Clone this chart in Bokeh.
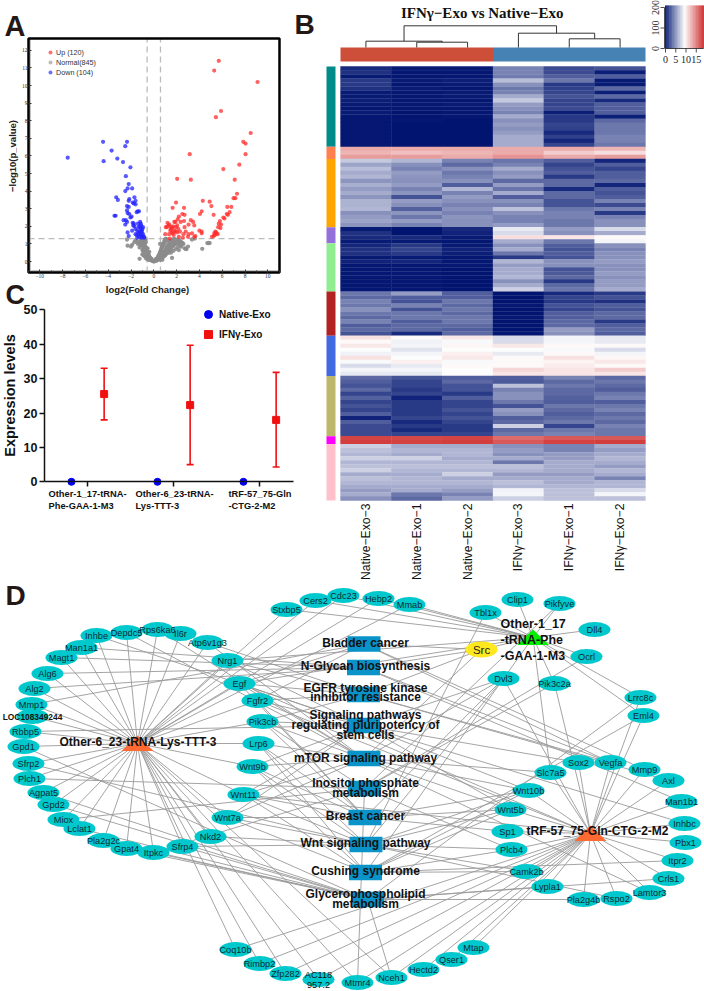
import numpy as np
from bokeh.plotting import figure
from bokeh.layouts import column, row
from bokeh.models import (FixedTicker, Whisker, ColumnDataSource, Legend, LegendItem,
                          LinearColorMapper, TeeHead)
from bokeh.core.properties import value
from bokeh.embed import file_html
from bokeh.resources import INLINE

SANS = "Liberation Sans"
SERIF = "Liberation Serif"

# ---------- Panel A values ----------
up_x = [5.7,5.3,9.1,5.9,5.45,8.5,7.85,8.05,8.05,3.15,7.5,6.1,2.05,3.25,7.1,7.3,7,7.15,4.3,4.9,1.95,5.05,6.45,6.8,6.65,1.65,2.65,4.2,4.05,5.25,2.5,2.7,2.2,6.4,6.5,6.1,6.2,5.8,5.7,5.9,5.65,5.85,
        1.2,1.3,1.15,1.55,1.7,1.9,1.8,2.1,2.05,2.35,2.65,3.25,3.45,3.55,3.05,2.7,1.45,1.6,1.8,1,1.35,1.75,2.05,2.3,1.4,2.2,2.6,2.8,3.05,3.35,4,4.2,4.2,3.65,3.55,5.45,5.35,5.25,5.1,5.4,1.95,1.65,1.05,3,2.55,1.5,1.6,1.9,2.15,1.35,5.5,5.6,5.3]
up_y = [11.4,10.85,10.2,8.55,8.2,7.3,6.8,6.7,6.1,6.1,5.5,5.25,4.7,4.65,4.65,3.85,3.6,3.6,3.45,3.4,3.35,3.15,3.1,3.1,2.8,3.05,3.05,2.85,2.7,2.65,2.7,2.65,2.55,2.7,2.65,2.5,2.45,2.3,2.15,2.1,1.95,1.9,
        2.2,2.05,1.95,1.95,2,2.25,2.25,2.4,2.05,2.25,2.3,2.35,2.25,2.05,2.1,1.95,1.75,1.65,1.75,1.55,1.55,1.5,1.65,1.7,1.3,1.4,1.55,1.7,1.55,1.6,1.75,1.7,1.6,1.45,1.4,1.65,1.5,1.45,1.4,1.7,1.95,1.6,1.95,1.4,1.35,1.85,1.9,1.7,1.85,2.1,1.6,1.55,1.6]
down_x = [-7.55,-4.45,-2.35,-2.5,-3.7,-3.2,-4.4,-2.7,-2.05,-2.45,-2.2,-2.3,-1.9,-2.5,-3.3,-3.15,-2.15,-2.2,-1.7,-1.6,-1.85,-1.75,-1.6,-2.35,-2.2,-2.35,-2.3,-3.35,-3.45,-2.15,-1.95,-1.5,-1.4,-1.3,-2.05,-2.65,-2.45,-2.35,-2.5,-1.85,-1.75,-1.8,-1.4,-1.2,-1.15,-1.1,-1.3,-1.15,-1,-1.6,-1.9,-1.45,-1.2,-1.05,-0.95,-1.3,-1.6,-2.3,-2.2,-1.15,-1,-0.85,-1.3,-1.45,-1.1,-0.85,-1.25,-1.35,-1.05,-0.95,-1.5,-1.7]
down_y = [5.9,6.8,6.8,6.55,6.3,5.85,5.7,5.65,5.35,4.85,4.4,4.15,4.15,4,3.65,3.5,3.55,3.45,3.65,3.45,3.35,3.3,3.25,3.15,3.1,2.9,2.75,2.6,2.6,2.7,2.55,2.8,2.85,2.85,2.5,2.35,2.35,2.25,2.1,2.2,2.15,2.05,2.15,2.25,2.15,2.05,1.95,1.85,1.85,1.85,1.75,1.75,1.7,1.65,1.55,1.55,1.55,1.65,1.45,1.5,1.45,1.4,1.4,1.35,1.35,1.35,2.0,1.65,1.75,1.95,1.5,2.0]
norm_x = [0,0.05,-0.05,0.1,-0.1,0.15,-0.15,0.2,-0.2,0.25,-0.25,0.3,-0.3,0.35,-0.35,0.4,-0.4,0.45,-0.45,0.5,-0.5,0.55,-0.55,0.6,-0.6,0.65,-0.65,0.7,-0.7,0.75,-0.75,0.8,-0.8,0.85,-0.85,0.9,-0.9,0.95,-0.95,1,-1,1.05,1.1,-1.05,1.15,-1.1,0.3,-0.3,0.4,-0.4,0.5,-0.5,0.6,-0.6,0.7,-0.7,0.8,-0.8,0.9,-0.9,1,-1,1.1,1.2,1.3,1.4,1.5,1.6,1.7,1.8,1.9,2,2.1,2.2,2.3,2.4,2.5,2.6,1.1,1.2,1.3,1.4,1.5,1.6,1.7,1.8,1.9,2,0.9,1,1.1,1.2,1.3,1.4,1.5,0.6,0.7,0.8,0.9,1,-0.6,-0.7,-0.8,-0.9,-1,-0.7,-0.8,-0.9,-1.15,-1.2,-1.3,-1.4,-1.5,-1.6,-1.7,-2.3,-2.35,-1.9,-2,2.8,2.85,4.25,4.7,4.8,4.9,3.6,3.35,3,2.7,2.2,2.4,-0.95,-0.5,-0.4,-0.2,0.2,0.25,-1.25,-0.55,0.55,0.75,1.6,
        1.3,1.5,1.7,1.9,2.1,2.3,0.85,0.95,1.05,1.15,1.25,1.35,1.45,1.55,1.65,1.75,1.85,1.95,2.05,2.15,2.25,2.35,0.55,0.65,0.75,0.85,0.95,1.05,1.15,1.25,1.35,1.45,1.05,0.95,0.85,0.75,0.65,0.55,0.45,0.35,
        -0.45,-0.55,-0.65,-0.75,-0.85,-0.95,-0.85,-0.75,-0.65,-0.55,-0.9,-1.0,-0.8,-0.7,-0.85,-1.1,-1.0,-1.15,-1.25,-0.95,-0.8,-0.75]
norm_y = [0,0.02,0.02,0.03,0.03,0.05,0.05,0.08,0.08,0.12,0.12,0.17,0.17,0.22,0.22,0.3,0.3,0.35,0.35,0.42,0.42,0.5,0.5,0.6,0.6,0.7,0.7,0.8,0.8,0.85,0.85,0.95,0.95,1.02,1.02,1.1,1.1,1.18,1.18,1.25,1.25,1.28,1.26,1.28,1.2,1.2,0.08,0.08,0.14,0.14,0.2,0.2,0.28,0.28,0.36,0.36,0.44,0.44,0.55,0.55,0.65,0.65,0.75,0.85,0.95,1.05,1.15,1.2,1.25,1.28,1.22,1.18,1.25,1.2,1.15,1.1,1.05,1.0,0.55,0.6,0.65,0.7,0.8,0.85,0.9,0.95,1,1.05,0.35,0.4,0.45,0.5,0.55,0.6,0.7,0.14,0.2,0.25,0.3,0.35,0.14,0.2,0.3,0.35,0.4,0.5,0.6,0.7,0.95,1.05,1.1,1.0,1.15,1.2,1.1,0.9,1.25,0.95,0.85,0.72,0.7,0.72,1.05,1.05,1.05,1.3,1.25,0.85,0.75,0.65,0.85,0.9,0.45,0.55,0.15,0.15,0.05,0.15,0.75,0.1,0.1,0.2,0.5,
        0.5,0.6,0.7,0.8,0.9,0.95,0.4,0.55,0.6,0.7,0.75,0.85,0.9,1,1.05,1.1,1.1,1.05,1,1.1,1.05,1,0.2,0.3,0.3,0.55,0.7,0.85,0.95,1.05,1.15,1.25,1.1,1,0.85,0.65,0.5,0.35,0.2,0.1,
        0.2,0.3,0.4,0.5,0.65,0.8,0.8,0.7,0.55,0.4,1,1.1,1.1,1,1.2,1,0.9,0.8,1.1,1.25,1.25,1.2]

# ---------- Panel C values ----------
groups = ["Other-1_17-tRNA-Phe-GAA-1-M3", "Other-6_23-tRNA-Lys-TTT-3", "tRF-57_75-Gln-CTG-2-M2"]
native_mean = [0, 0, 0]
ifn_mean = [25.5, 22.3, 18]
ifn_low = [18, 5, 4.3]
ifn_high = [33, 39.7, 31.8]

# ---------- Panel B values (rows top to bottom, one list per sample) ----------
native3 = [1,1.2,0.3,1.5,1.5,1.3,0.4,0.3,0.5,0.3,0.2,0.3,0.2,0.2,0.2,0.2,0.2,0.2,0.2,0.2,
  13,12.5,13.5,
  7.2,5.8,6.8,6,6.5,5.2,6.2,5.5,6,5.2,6.3,6.3,6.5,5,5.5,5.7,5.2,
  0.4,1.2,1,0.3,0.8,1.3,1.3,0.4,0.7,0.2,0.2,0.2,0.2,0.2,0.2,0.2,
  4,3.5,4.5,4,5,4,3.5,4.5,3,3.5,2.5,
  10.6,9.5,10.3,9.3,8.8,10.6,9.2,8,9,8.5,
  3.5,3,2.5,3.5,2,3.2,2,2.5,2,3,0.7,3,2.2,2.2,2.2,
  17.3,17.6,
  7.5,7,6.5,7.5,6.5,7,7.5,6,7,6.5,6,5.5,6,5]
native1 = [0.3,0.2,0.2,0.3,0.2,0.3,0.2,0.2,0.2,0.2,0.2,0.1,0.1,0.2,0.1,0.1,0.1,0.1,0.1,0.1,
  13,12,13.5,
  6.5,5,4.5,5.5,5.2,5,5.5,4.5,5.2,2.5,5.5,5,3.2,5.2,4,5.5,4.5,
  0.1,0.1,1,0.3,1.5,2,1.5,0.3,0.8,0.2,0.2,0.2,0.2,0.2,0.2,0.2,
  5.5,3,2.5,4.5,2.5,4,4,3,3.5,3.5,1,
  9.5,8.8,9,8.3,9,9.3,10,8.5,9,8.6,
  2.5,2,2,1.5,2,0.7,1.5,1.5,1.5,1.5,2,1,1.5,1,2,
  17.2,17.5,
  6,6.5,6,7.5,6.5,7,6.5,6,6.5,6.5,6,6,4,3.5]
native2 = [0.3,0.2,0.2,0.5,0.3,0.2,0.3,0.4,0.2,0.3,0.2,0.2,0.2,0.1,0.1,0.1,0.1,0.1,0.1,0.1,
  13,12.5,13,
  4.5,3.5,5,4,4.5,5,3,6.5,4.5,5.5,5,4.5,5,4.5,5.2,5,5,
  1,0.6,0.3,0.2,0.4,0.6,0.5,0.2,0.2,0.2,0.1,0.1,0.1,0.1,0.1,0.1,
  3,3,4,3.5,4,3.5,4,4,3.5,3,3.5,
  10.3,9.2,9.7,9.3,10,10.3,9.2,9.5,9.4,9.4,
  3,3.5,2.5,2.5,1.5,3,2,2,2.5,2,2.5,2,1.5,1.5,2,
  17.3,17.6,
  6,6.5,6.5,6,6.5,7,6.5,7.5,6,6.5,6,5.5,4.5,5.5]
ifn3 = [4.5,4.5,4.2,6.8,5,4,4.5,6,7.2,5.5,5,4.5,6,5,5.5,5,5.5,6,6,6,
  13,13,14,
  3.8,4.5,6,5,5.5,3.5,5.5,3.8,6,3,5,4.5,7,5,4.5,4.5,5.5,
  8.5,8,10.8,6,5,6,4,1.5,6.5,5.5,6,6,6.5,5,6,7.5,
  0.1,0.1,0.1,0.2,0.1,0.1,0.2,0.1,0.1,0.1,0.2,
  8,8,10.3,9.3,8.5,9.5,9.5,9.5,11,10.5,
  3,2.8,7,4.5,5,5,4,2.5,5.5,5,3,3.5,7.5,3.5,4,
  15.5,16.5,
  5,5.5,5,6,4,7,6.5,5.5,6,7,6.5,8.8,9,7.5]
ifn1 = [2.2,2.2,3,4,1.5,1.8,2,2.5,2,2,2.3,0.5,1.5,1.5,2,1.8,1,1.8,0.8,2,
  13,11.5,13,
  3,2,2.5,3,1.5,3.5,3.5,1,3.5,3.5,2.5,2.5,4,4.5,4.5,4,4,
  5.5,5,10.5,4,3,2.5,3,2.5,5,5,2.5,2.8,3.5,1.5,3.5,4,
  1,2,1.5,2.5,2,3,3,3.5,3.5,5.5,5,
  9,9,9.5,9.2,9.5,10.6,9.8,10.2,10.5,10.5,
  4.5,3.5,4,3.5,3.5,3.2,3,4,3.5,3,3.5,4,2,4,4.5,
  16.5,17.5,
  4.5,4.5,5.5,5.5,6,6,6,5.5,6,6,6.5,7,7,7]
ifn2 = [2.5,0.5,3,0.3,0.3,3.5,0.5,3.5,1,3,3,3,0.5,3.5,4,4,4,4.5,4.5,4,
  12.5,10.8,13.5,
  0.8,3,2,3,3,3.5,0.8,3,2.5,3,4.5,2.2,4.5,1.5,4.5,5,5,
  8,6,9.5,9,5,4.5,5,5,5.5,5,5,5.5,5,5.5,5.5,6,
  1.5,2.5,1.2,3,2.5,3.5,3.5,1.5,3,3.5,3,
  8.5,8.5,9.5,8,9,9.7,10.3,9.5,11.5,10.5,
  3.5,4,3.5,3,4,4.5,3,4,4.5,3.5,4,3.5,4.5,4,4,
  16.5,17.6,
  6,5.5,6,6.5,6,5.5,6.5,6,4.5,6.5,6.5,8,9,7]
samples = ["Native\u2212Exo\u22123","Native\u2212Exo\u22121","Native\u2212Exo\u22122","IFN\u03b3\u2212Exo\u22123","IFN\u03b3\u2212Exo\u22121","IFN\u03b3\u2212Exo\u22122"]
sample_values = [native3, native1, native2, ifn3, ifn1, ifn2]
cluster_rows = [20,3,17,4,12,11,10,15,2,14]
cluster_colors = ["#008B8B","#FF7F50","#FFA500","#9370DB","#90EE90","#B22222","#4169E1","#BDB76B","#FF00FF","#FFC0CB"]
for s in sample_values:
    assert len(s) == sum(cluster_rows), len(s)

# ---------- Panel D network ----------
nodes = {
 "Stxbp5":(286,609),"Cers2":(315,600),"Cdc23":(343,595),"Hebp2":(378,598),"Mmab":(409,604),"Tbl1x":(485,612),
 "Clip1":(517,599),"Pikfyve":(559,603),"Dll4":(594,629),"Ocrl":(586,656),"Dvl3":(503,678),"Pik3c2a":(554,683),
 "Lrrc8c":(640,697),"Eml4":(643,715),"Sox2":(578,762),"Vegfa":(610,762),"Mmp9":(644,769),"Axl":(668,780),"Slc7a5":(550,772),
 "Wnt10b":(528,790),"Man1b1":(681,801),"Wnt5b":(510,809),"Inhbc":(684,823),"Sp1":(507,831),"Pbx1":(685,842),"Plcb4":(511,849),
 "Itpr2":(677,860),"Camk2b":(526,871),"Crls1":(668,878),"Lypla1":(547,886),"Lamtor3":(649,892),"Pla2g4b":(583,899),"Rspo2":(616,898),
 "Mtap":(473,947),"Qser1":(451,959),"Hectd2":(423,969),"Nceh1":(391,977),"Mtmr4":(357,982),
 "Agpat5":(43,792),"Gpd2":(53,804),"Miox":(63,819),"Lclat1":(79,828),"Pla2g2c":(103,840),"Gpat4":(126,848),"Itpkc":(153,852),
 "Sfrp4":(182,846),"Nkd2":(210,836),"Wnt7a":(227,817),"Wnt11":(243,794),"Coq10b":(235,949),"Rimbp2":(259,963),"Zfp282":(285,973),"AC118\n957.2":(318,979),
 "Inhbe":(96,635),"Depdc5":(126,632),"Rps6ka6":(157,629),"Il6r":(180,633),"Atp6v1g3":(207,642),"Nrg1":(227,660),"Man1a1":(81,647),
 "Magt1":(61,657),"Alg6":(47,673),"Alg2":(34,688),"Egf":(239,683),"Fgfr2":(257,700),"Mmp1":(31,704),"LOC108349244":(32,716),"Rbbp5":(25,731),
 "Pik3cb":(262,721),"Gpd1":(23,746),"Lrp6":(258,743),"Sfrp2":(28,763),"Wnt9b":(252,766),"Plch1":(29,778),
}
src_node = ("Src", 481, 649)
hubs = {"six":(137,743,"#FF6A33"), "one":(532.5,637,"#00F000"), "trf":(590,833,"#FF6A33")}
hub_six = ["Stxbp5","Cers2","Cdc23","Hebp2","Mmab","Inhbe","Depdc5","Rps6ka6","Il6r","Atp6v1g3","Nrg1","Man1a1","Magt1","Alg6","Alg2","Egf","Fgfr2","Mmp1","LOC108349244","Rbbp5",
           "Pik3cb","Gpd1","Lrp6","Sfrp2","Wnt9b","Plch1","Agpat5","Gpd2","Miox","Lclat1","Pla2g2c","Gpat4","Itpkc","Sfrp4","Nkd2","Wnt7a","Wnt11","Coq10b","Rimbp2","Zfp282","AC118\n957.2","Mtmr4","Nceh1"]
hub_one = ["Stxbp5","Cers2","Cdc23","Hebp2","Mmab","Tbl1x","Clip1","Pikfyve","Dll4","Ocrl","Dvl3","Pik3c2a","Lrrc8c","Eml4","Slc7a5","Nrg1","Egf"]
hub_trf = ["Sox2","Vegfa","Mmp9","Axl","Slc7a5","Wnt10b","Man1b1","Wnt5b","Inhbc","Sp1","Pbx1","Plcb4","Itpr2","Camk2b","Crls1","Lypla1","Lamtor3","Pla2g4b","Rspo2","Mtap","Qser1","Hectd2","Nceh1","Coq10b","Rimbp2","Zfp282","AC118\n957.2","Mtmr4","Lrrc8c","Eml4","Dvl3","Pik3c2a","Egf","Fgfr2","Wnt11"]
pathway_names = ["Bladder","NGlycan","EGFR","Pluri","mTOR","Inositol","Breast","Wnt","Cushing","Glycero"]
pathway_labels = [["Bladder cancer"],["N-Glycan biosynthesis"],["EGFR tyrosine kinase","inhibitor resistance"],
                  ["Signaling pathways","regulating pluripotency of","stem cells"],["mTOR signaling pathway"],
                  ["Inositol phosphate","metabolism"],["Breast cancer"],["Wnt signaling pathway"],["Cushing syndrome"],["Glycerophospholipid","metabolism"]]
pathway_pos = [(363.5,643.5),(363,667),(363,694),(363,725),(363.5,758),(364,788),(364.5,817),(365.5,844),(365,872),(367,899)]
pathway_text_y = [[642],[665],[687,696.5],[714,724,734],[757],[782,792],[815],[842],[870],[893,903]]
gene_paths = {
 "Egf":["Bladder","EGFR","Pluri","mTOR","Breast"],"Nrg1":["EGFR","Pluri"],"Fgfr2":["Bladder","Pluri","Breast","EGFR"],"Pik3cb":["EGFR","Pluri","mTOR","Inositol","Breast"],
 "Lrp6":["mTOR","Wnt","Breast","Cushing"],"Wnt9b":["Pluri","mTOR","Breast","Wnt","Cushing"],"Wnt11":["Pluri","mTOR","Breast","Wnt","Cushing"],"Wnt7a":["Pluri","mTOR","Breast","Wnt","Cushing"],
 "Nkd2":["Wnt"],"Sfrp4":["Wnt","Glycero"],"Sfrp2":["Wnt"],"Itpkc":["Inositol","Glycero"],"Gpat4":["Glycero"],"Agpat5":["Glycero"],"Gpd1":["Glycero"],"Gpd2":["Glycero"],"Lclat1":["Glycero"],"Pla2g2c":["Glycero"],
 "Miox":["Inositol"],"Plch1":["Inositol"],"Man1a1":["NGlycan"],"Magt1":["NGlycan"],"Alg6":["NGlycan"],"Alg2":["NGlycan"],"Mmp1":["Bladder"],"Rbbp5":["Pluri"],"Inhbe":["Pluri"],
 "Depdc5":["mTOR"],"Rps6ka6":["mTOR"],"Il6r":["EGFR"],"Atp6v1g3":["mTOR"],"Tbl1x":["Wnt"],"Pikfyve":["Inositol"],"Ocrl":["Inositol"],"Pik3c2a":["Inositol"],
 "Dvl3":["Pluri","mTOR","Breast","Wnt","Cushing"],"Slc7a5":["mTOR"],"Sox2":["Pluri"],"Vegfa":["Bladder","EGFR","NGlycan"],"Mmp9":["Bladder"],"Axl":["EGFR"],"Man1b1":["NGlycan"],"Inhbc":["Pluri"],
 "Itpr2":["Cushing"],"Crls1":["Glycero"],"Lamtor3":["mTOR"],"Rspo2":["Wnt"],"Pla2g4b":["Glycero"],"Lypla1":["Glycero"],"Camk2b":["Wnt","Cushing"],"Plcb4":["Wnt","Cushing","Inositol"],"Sp1":["Breast"],
 "Wnt5b":["Pluri","mTOR","Breast","Wnt","Cushing"],"Wnt10b":["Pluri","mTOR","Breast","Wnt","Cushing"],"Mtmr4":["Inositol"],"Nceh1":["Glycero"],"Lrrc8c":["Glycero"],"Eml4":["Cushing"],
}

# ---------- Panel A ----------
HA, WA = 311, 294
ax_ = lambda px: (px - 153.3) / 11.4
ay_ = lambda py: (261.0 - py) / 17.6
L, R, T, B = ax_(28), ax_(279), ay_(38), ay_(272)
pa = figure(width=WA, height=HA, x_range=(ax_(0), ax_(WA)), y_range=(ay_(HA), ay_(0)), output_backend="svg", toolbar_location=None, min_border=0)
pa.grid.visible = False; pa.outline_line_color = None
pa.xaxis.ticker = FixedTicker(ticks=list(range(-10, 11, 2)), minor_ticks=list(range(-11, 12)))
pa.yaxis.ticker = FixedTicker(ticks=list(range(0, 13)))
pa.xaxis.fixed_location = B; pa.yaxis.fixed_location = L
for ax in (pa.xaxis[0], pa.yaxis[0]):
    ax.axis_line_color = None
    ax.major_tick_in = 3; ax.major_tick_out = 0; ax.minor_tick_in = 2; ax.minor_tick_out = 0
    ax.major_tick_line_color = "#333"; ax.minor_tick_line_color = "#333"
    ax.major_label_text_font = SERIF; ax.major_label_text_font_size = "5.5px"; ax.major_label_text_color = "#333"
    ax.major_label_standoff = 1
    ax.axis_label_text_font = SANS; ax.axis_label_text_font_style = "bold"; ax.axis_label_text_color = "#222"
    ax.axis_label_text_font_size = "9.5px"
pa.xaxis.axis_label = "log2(Fold Change)"; pa.yaxis.axis_label = "\u2212log10(p_value)"
pa.xaxis.axis_label_standoff = 3; pa.yaxis.axis_label_standoff = 1
# light inner band and box
pa.quad(left=[L, L], right=[ax_(30.5), R], top=[T, ay_(269.5)], bottom=[B, B], fill_color="#c4c4c4", line_color=None)
pa.segment(x0=[L], y0=[1.3], x1=[R], y1=[1.3], line_color="#bbbbbb", line_dash="6 4", line_width=1.3)
pa.segment(x0=[-0.585, 0.585], y0=[B, B], x1=[-0.585, 0.585], y1=[T, T], line_color="#bbbbbb", line_dash="6 4", line_width=1.3)
n = min(len(norm_x), len(norm_y)); r_n = pa.scatter(norm_x[:n], norm_y[:n], size=4.3, color="#8c8c8c", alpha=0.9, line_color=None)
n = min(len(up_x), len(up_y)); r_u = pa.scatter(up_x[:n], up_y[:n], size=4.2, color="#FF2B2B", alpha=0.75, line_color=None)
n = min(len(down_x), len(down_y)); r_d = pa.scatter(down_x[:n], down_y[:n], size=4.2, color="#2222FF", alpha=0.75, line_color=None)
pa.quad(left=[L], right=[R], top=[T], bottom=[B], fill_color=None, line_color="black", line_width=2.5)
lr_u = pa.scatter([-99],[-99], size=5.5, color="#FF7070", line_color=None)
lr_n = pa.scatter([-99],[-99], size=5.5, color="#BBBBBB", line_color=None)
lr_d = pa.scatter([-99],[-99], size=5.5, color="#7070FF", line_color=None)
lega = Legend(items=[LegendItem(label="Up (120)", renderers=[lr_u]), LegendItem(label="Normal(845)", renderers=[lr_n]), LegendItem(label="Down (104)", renderers=[lr_d])],
              location=(44, HA-77), background_fill_alpha=0, border_line_color=None, spacing=0, padding=0, margin=0,
              label_text_font=SANS, label_text_font_size="7.2px", label_text_color="#333", glyph_width=12, glyph_height=10, label_height=10, label_standoff=0)
pa.add_layout(lega, "center")
pa.text([ax_(4)], [ay_(25)], text=["A"], text_baseline="middle", text_font=value(SANS), text_font_style="bold", text_font_size="29px", text_color="#231815")
pa.text([ax_(5)], [ay_(294)], text=["C"], text_baseline="middle", text_font=value(SANS), text_font_style="bold", text_font_size="27px", text_color="#231815")

# ---------- Panel C ----------
HC = 276
cx = lambda px: (px - 87.3) / 86.0
cy = lambda py: (481.3 - 304 - py) / 3.44
# the figure overlaps panel A's lower edge by a few pixels and is transparent there
pc = figure(width=WA, height=HC, x_range=(cx(0), cx(WA)), y_range=(cy(HC), cy(0)), output_backend="svg", toolbar_location=None, min_border=0,
            margin=(304-HA, 0, 0, 0), background_fill_alpha=0, border_fill_alpha=0)
pc.grid.visible = False; pc.outline_line_color = None
pc.yaxis.ticker = FixedTicker(ticks=[0,10,20,30,40,50]); pc.xaxis.ticker = FixedTicker(ticks=[0,1,2])
pc.xaxis.major_label_overrides = {0:"", 1:"", 2:""}
pc.xaxis.fixed_location = 0; pc.yaxis.fixed_location = cx(44)
pc.xaxis.bounds = (cx(44), cx(293)); pc.yaxis.bounds = (0, 50)
pc.xaxis.minor_tick_line_color = None; pc.yaxis.minor_tick_line_color = None
for ax in (pc.xaxis[0], pc.yaxis[0]):
    ax.axis_line_width = 1.5; ax.major_tick_line_width = 1.5; ax.major_tick_in = 0; ax.major_tick_out = 5
    ax.axis_line_color = "#111"; ax.major_tick_line_color = "#111"
pc.yaxis.major_label_text_font = SANS; pc.yaxis.major_label_text_font_style = "bold"; pc.yaxis.major_label_text_font_size = "12.5px"; pc.yaxis.major_label_text_color = "#111"
pc.yaxis.major_label_standoff = 2
pc.yaxis.axis_label = "Expression levels"; pc.yaxis.axis_label_text_font = SANS; pc.yaxis.axis_label_text_font_style = "bold"
pc.yaxis.axis_label_text_font_size = "14.5px"; pc.yaxis.axis_label_standoff = 3; pc.yaxis.axis_label_text_color = "#111"
centers = np.arange(3)
src_w = ColumnDataSource(dict(x=centers + 0.19, lo=ifn_low, hi=ifn_high))
pc.add_layout(Whisker(source=src_w, base="x", upper="hi", lower="lo", line_color="#F01010", line_width=1.6,
                      upper_head=TeeHead(size=7, line_color="#F01010", line_width=1.6),
                      lower_head=TeeHead(size=7, line_color="#F01010", line_width=1.6)))
rb = pc.scatter(centers - 0.19, native_mean, marker="circle", size=7, color="#0000F0")
rr = pc.scatter(centers + 0.19, ifn_mean, marker="square", size=7, color="#F01010")
legc = Legend(items=[LegendItem(label="Native-Exo", renderers=[rb]), LegendItem(label="IFN\u03b3-Exo", renderers=[rr])],
              location=(198, 236), background_fill_alpha=0, border_line_color=None, spacing=0, padding=0, margin=0,
              label_text_font=SANS, label_text_font_style="bold", label_text_font_size="10px", label_text_color="#111",
              glyph_width=20, glyph_height=20, label_height=20, label_standoff=1)
pc.add_layout(legc, "center")
for x0, l1, l2 in [(48,"Other-1_17-tRNA-","Phe-GAA-1-M3"),(135,"Other-6_23-tRNA-","Lys-TTT-3"),(228,"tRF-57_75-Gln","-CTG-2-M2")]:
    pc.text([cx(x0)]*2, [cy(493-304), cy(505-304)], text=[l1, l2], text_baseline="middle", text_font=value(SANS), text_font_style="bold", text_font_size="9.3px", text_color="#111")

# ---------- Panel B ----------
HB, WB = 580, 410
pb = figure(width=WB, height=HB, x_range=(294, 704), y_range=(580, 0), output_backend="svg", toolbar_location=None,
            min_border=0)
pb.axis.visible = False; pb.grid.visible = False; pb.outline_line_color = None
X0, X1, Y0, Y1 = 340.0, 645.0, 66.0, 500.0
cw = (X1 - X0) / 6; nrows = sum(cluster_rows); rh = (Y1 - Y0) / nrows
stops = np.array([[0,20,112],[255,255,255],[205,38,38]], float)
palette = []
for t in np.linspace(0, 1, 128):
    a, b, f = (stops[0], stops[1], t*2) if t < .5 else (stops[1], stops[2], t*2-1)
    c = (a + (b-a)*f).astype(int)
    palette.append("#%02x%02x%02x" % tuple(int(i) for i in c))
mapper = LinearColorMapper(palette=palette, low=0, high=18.7)
xs, ys, vals = [], [], []
for j, col in enumerate(sample_values):
    for i, v in enumerate(col):
        xs.append(X0 + cw*(j+.5)); ys.append(Y0 + rh*(i+.5)); vals.append(v)
pb.rect(x="x", y="y", width=cw+0.3, height=rh+0.3, source=ColumnDataSource(dict(x=xs, y=ys, v=vals)),
        fill_color={"field":"v","transform":mapper}, line_color=None)
# column and row annotations
pb.quad(left=[X0, X0+3*cw], right=[X0+3*cw, X1], top=[47,47], bottom=[61,61], fill_color=["#CD4F39","#4682B4"], line_color=None)
edges = np.cumsum([0]+cluster_rows)
pb.quad(left=[326]*10, right=[335]*10, top=[Y0+rh*e for e in edges[:-1]], bottom=[Y0+rh*e for e in edges[1:]], fill_color=cluster_colors, line_color=None)
# dendrogram
cc = lambda i: X0 + cw*(i+.5)
m12 = (cc(1)+cc(2))/2; m45 = (cc(4)+cc(5))/2; m0 = (cc(0)+m12)/2; m3 = (cc(3)+m45)/2
dx = [[cc(1),cc(1),cc(2),cc(2)],[cc(0),cc(0),m12,m12],[cc(4),cc(4),cc(5),cc(5)],[cc(3),cc(3),m45,m45],[m0,m0,m3,m3]]
dy = [[47,41.7,41.7,47],[47,40.7,40.7,41.7],[47,38.3,38.3,47],[47,32.7,32.7,38.3],[40.7,25.3,25.3,32.7]]
pb.multi_line(dx, dy, line_color="#333", line_width=1)
for j, s in enumerate(samples):
    pb.text([cc(j)], [503], text=[s], angle=np.pi/2, text_align="right", text_baseline="middle", text_font=value(SANS),
            text_font_size="12.2px", text_color="#111")
pb.text([481.7], [12], text=["IFN\u03b3\u2212Exo vs Native\u2212Exo"], text_align="center", text_baseline="middle", text_font=value(SERIF),
        text_font_style="bold", text_font_size="15px", text_color="#111")
# colour key
kx = np.linspace(0, 18.7, 64)
kpx = 665 + kx*2.05
pb.rect(x="x", y=26.5, width=kpx[1]-kpx[0]+0.3, height=43, source=ColumnDataSource(dict(x=kpx, v=kx)),
        fill_color={"field":"v","transform":mapper}, line_color=None)
key_ticks = [0,5,10,15]
tpx = [665 + t*2.05 for t in key_ticks]
pb.segment(x0=[665,*tpx], y0=[48]*5, x1=[703,*tpx], y1=[48,*[52]*4], line_color="#222", line_width=0.8)
pb.text(tpx, [59]*4, text=[str(t) for t in key_ticks], text_align="center", text_baseline="middle", text_font=value(SERIF), text_font_size="10px", text_color="#222")
count_ticks = [0,100,200]
cpy = [48 - c*0.205 for c in count_ticks]
pb.segment(x0=[664]+[660]*3, y0=[48]+cpy, x1=[664]*4, y1=[cpy[-1]]+cpy, line_color="#222", line_width=0.8)
pb.text([655]*3, cpy, text=[str(c) for c in count_ticks], angle=np.pi/2, text_align="center", text_baseline="middle", text_font=value(SERIF), text_font_size="10px", text_color="#222")
pb.text([294], [24], text=["B"], text_align="left", text_baseline="middle", text_font=value(SANS), text_font_style="bold", text_font_size="28px", text_color="#231815")

# ---------- Panel D ----------
HD = 411
pd_ = figure(width=704, height=HD, x_range=(0, 704), y_range=(991, 580), output_backend="svg", toolbar_location=None, min_border=0)
pd_.axis.visible = False; pd_.grid.visible = False; pd_.outline_line_color = None
ppos = dict(zip(pathway_names, pathway_pos))
ex0, ey0, ex1, ey1 = [], [], [], []
def edge(a, b):
    ex0.append(a[0]); ey0.append(a[1]); ex1.append(b[0]); ey1.append(b[1])
for key, genes in (("six",hub_six),("one",hub_one),("trf",hub_trf)):
    h = hubs[key]
    for g in genes:
        edge(h[:2], nodes[g])
for g, ps in gene_paths.items():
    for q in ps:
        edge(nodes[g], ppos[q])
for q in ["Bladder","NGlycan","EGFR","mTOR"]:
    edge(src_node[1:], ppos[q])
edge(src_node[1:], hubs["one"][:2])
pd_.segment(ex0, ey0, ex1, ey1, line_color="#9a9a9a", line_width=0.9)
pd_.rect([p[0] for p in pathway_pos], [p[1] for p in pathway_pos], width=33, height=15.5, fill_color="#0A93C8", line_color=None)
pd_.ellipse([v[0] for v in nodes.values()], [v[1] for v in nodes.values()], width=32, height=15, fill_color="#00C8CC", line_color=None)
pd_.ellipse([src_node[1]], [src_node[2]], width=32, height=16, fill_color="#FFE81E", line_color=None)
for key, h in hubs.items():
    pd_.patch([h[0]-16, h[0]+16, h[0]], [h[1]+7.5, h[1]+7.5, h[1]-8], fill_color=h[2], line_color=None)
plain = [k for k in nodes if "\n" not in k and not k.startswith("LOC")]
pd_.text([nodes[k][0] for k in plain], [nodes[k][1] for k in plain], text=plain, text_align="center", text_baseline="middle",
         text_font=value(SANS), text_font_size="9.2px", text_color="#0c2b33")
pd_.text([nodes["LOC108349244"][0]], [716], text=["LOC108349244"], text_align="center", text_baseline="middle", text_font=value(SANS), text_font_style="bold", text_font_size="8.4px", text_color="#111")
pd_.text([318,318], [974,984], text=["AC118","957.2"], text_align="center", text_baseline="middle", text_font=value(SANS), text_font_size="9.2px", text_color="#111")
pd_.text([481],[649], text=["Src"], text_align="center", text_baseline="middle", text_font=value(SANS), text_font_size="11.5px", text_color="#222")
for lines, ty in zip(pathway_labels, pathway_text_y):
    pd_.text([365]*len(lines), ty, text=lines, text_align="center", text_baseline="middle", text_font=value(SANS), text_font_style="bold", text_font_size="12px", text_color="#111")
pd_.text([59],[741], text=["Other-6_23-tRNA-Lys-TTT-3"], text_baseline="middle", text_font=value(SANS), text_font_style="bold", text_font_size="12px", text_color="#111")
pd_.text([500]*3,[623,639,655], text=["Other-1_17","-tRNA-Phe","-GAA-1-M3"], text_baseline="middle", text_font=value(SANS), text_font_style="bold", text_font_size="12.5px", text_color="#111")
pd_.text([526],[830], text=["tRF-57_75-Gln-CTG-2-M2"], text_baseline="middle", text_font=value(SANS), text_font_style="bold", text_font_size="12px", text_color="#111")
pd_.text([5],[595], text=["D"], text_baseline="middle", text_font=value(SANS), text_font_style="bold", text_font_size="28px", text_color="#231815")

left = column(pa, pc, spacing=0)
top = row(left, pb, spacing=0)
root = column(top, pd_, spacing=0)
open("out.html", "w").write(file_html(root, INLINE))
